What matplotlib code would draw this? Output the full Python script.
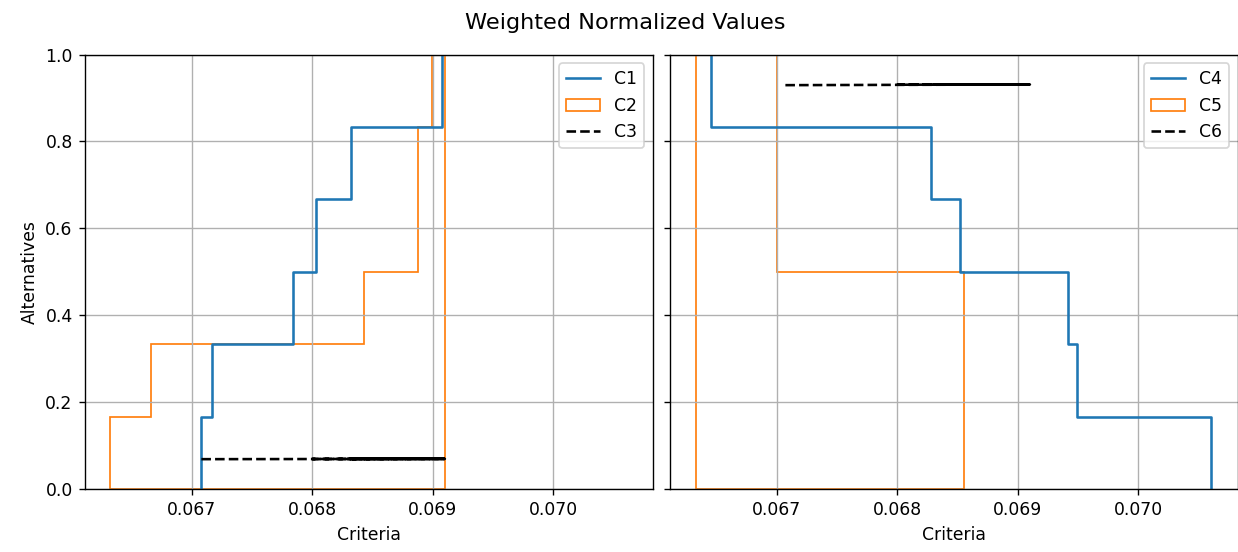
import matplotlib
matplotlib.use("Agg")
import matplotlib.pyplot as plt
from matplotlib.patches import Polygon
import numpy as np

# ---- data ----
alt_levels = [0, 1/6, 1/3, 1/2, 2/3, 5/6, 1]

c1_values = [0.06708, 0.06717, 0.06784, 0.06803, 0.06832, 0.06908]
# C2 outline (step polygon)
c2_x = [0.066326, 0.066326, 0.066664, 0.066664, 0.068431, 0.068431, 0.068876, 0.068876, 0.068990, 0.068990, 0.069097, 0.069097]
c2_y = [0.0, 1/6, 1/6, 1/3, 1/3, 1/2, 1/2, 5/6, 5/6, 1.0, 1.0, 0.0]
c3_x = [0.06708, 0.06910, 0.06800, 0.06910, 0.06830, 0.06910]
c3_y = [0.0693, 0.0700, 0.0697, 0.0700, 0.0698, 0.0700]

c4_values = [0.06645, 0.06828, 0.06852, 0.06942, 0.06949, 0.07060]
c5_x = [0.066328, 0.066328, 0.067000, 0.067000, 0.068550, 0.068550]
c5_y = [0.0, 1.0, 1.0, 0.5, 0.5, 0.0]
c6_x = [0.06707, 0.06910, 0.06800, 0.06910, 0.06830, 0.06910]
c6_y = [0.9295, 0.9310, 0.9305, 0.9310, 0.9307, 0.9310]

x_ticks = [0.067, 0.068, 0.069, 0.070]
x_limits = (0.066112, 0.070824)

blue = "#1f77b4"
orange = "#ff7f0e"

fig, (ax1, ax2) = plt.subplots(1, 2, figsize=(1238/124, 552/124), dpi=124,
                               sharex=True, sharey=True)
ax1.set_position([84.7/1238, 1-489.3/552, 568/1238, (489.3-54.5)/552])
ax2.set_position([670.0/1238, 1-489.3/552, 567.6/1238, (489.3-54.5)/552])

# Left panel
ax1.step([c1_values[0]] + c1_values, alt_levels, where="post", color=blue, lw=1.5, label="C1")
ax1.add_patch(Polygon(np.column_stack([c2_x, c2_y]), closed=True, fill=False,
                      edgecolor=orange, lw=1.0, label="C2"))
ax1.plot(c3_x, c3_y, "k--", lw=1.5, label="C3")

# Right panel (complementary)
c4_levels = alt_levels[::-1]
ax2.step([c4_values[0]] + c4_values, c4_levels, where="post", color=blue, lw=1.5, label="C4")
ax2.add_patch(Polygon(np.column_stack([c5_x, c5_y]), closed=True, fill=False,
                      edgecolor=orange, lw=1.0, label="C5"))
ax2.plot(c6_x, c6_y, "k--", lw=1.5, label="C6")

for ax in (ax1, ax2):
    ax.set_xlim(*x_limits)
    ax.set_ylim(0, 1)
    ax.set_xticks(x_ticks)
    ax.set_xticklabels([f"{t:.3f}" for t in x_ticks])
    ax.grid(True)
    ax.set_xlabel("Criteria")
    ax.legend(loc="upper right")

ax1.set_yticks([0, 0.2, 0.4, 0.6, 0.8, 1.0])
ax1.set_ylabel("Alternatives")
fig.suptitle("Weighted Normalized Values", x=625/1238, y=1-23/552,
             va="center", fontsize=13)

fig.savefig("out.png", dpi=124)
